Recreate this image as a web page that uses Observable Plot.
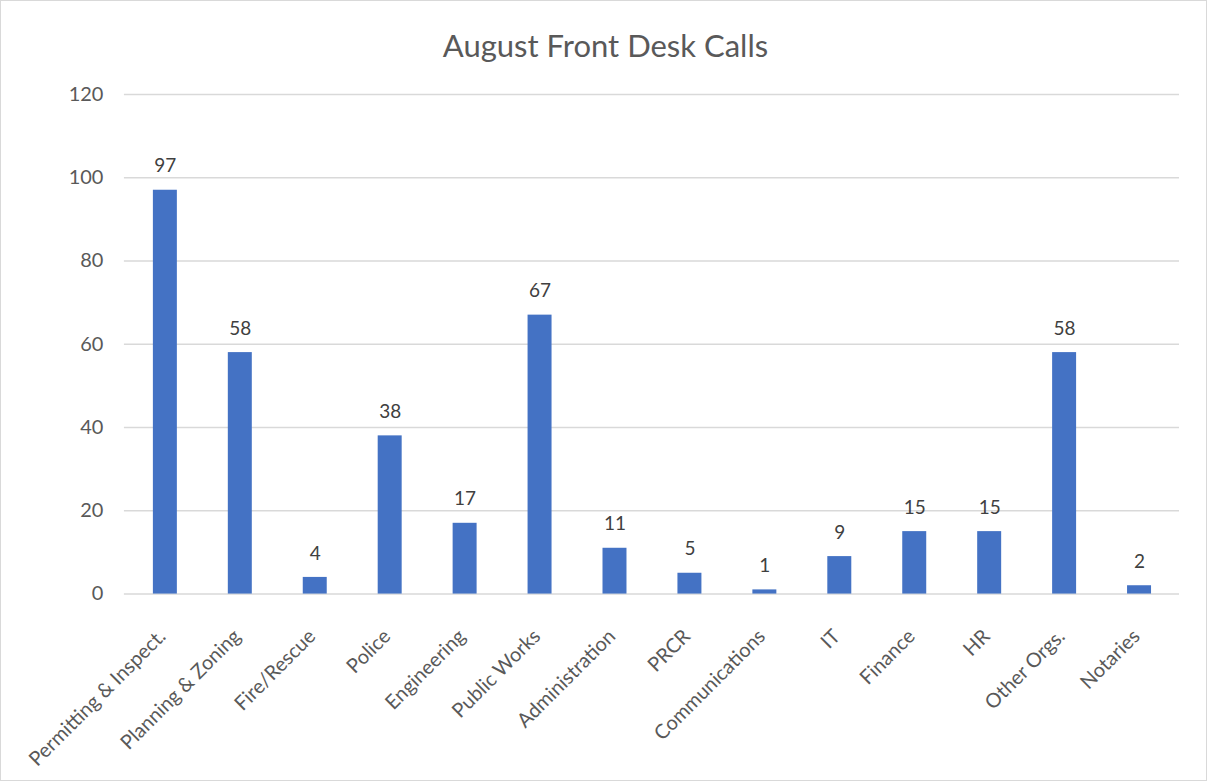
<!DOCTYPE html>
<html>
<head>
<meta charset="utf-8">
<script src="https://cdn.jsdelivr.net/npm/d3@7"></script>
<script src="https://cdn.jsdelivr.net/npm/@observablehq/plot@0.6"></script>
<style>
  html, body { margin: 0; padding: 0; background: #fff; }
  #chart {
    position: relative; width: 1207px; height: 781px; box-sizing: border-box;
    border: 1px solid #d9d9d9; background: #fff; overflow: hidden;
    font-family: Lato, "Open Sans", sans-serif;
  }
  #title {
    position: absolute; left: 2px; top: 25px; width: 100%; text-align: center;
    font-size: 31px; line-height: 38px; color: #595959; font-family: Lato, "Open Sans", sans-serif;
  }
  #plot { position: absolute; left: -1px; top: 79px; }
</style>
</head>
<body>
<div id="chart">
  <div id="title">August Front Desk Calls</div>
  <div id="plot"></div>
</div>
<script>
const categories = ["Permitting & Inspect.", "Planning & Zoning", "Fire/Rescue", "Police", "Engineering", "Public Works", "Administration", "PRCR", "Communications", "IT", "Finance", "HR", "Other Orgs.", "Notaries"];
const calls = [97, 58, 4, 38, 17, 67, 11, 5, 1, 9, 15, 15, 58, 2];
const yTicks = [0, 20, 40, 60, 80, 100, 120];

const data = categories.map((c, i) => ({category: c, calls: calls[i]}));

const chart = Plot.plot({
  width: 1207,
  height: 702,
  marginTop: 14,
  marginLeft: 124,
  marginRight: 27,
  marginBottom: 188,
  style: {fontFamily: "Lato, 'Open Sans', sans-serif", fontSize: "20px", color: "#595959", background: "transparent"},
  x: {domain: categories, paddingInner: 0.68, paddingOuter: 0.34, label: null},
  y: {domain: [0, 120], ticks: yTicks, label: null},
  marks: [
    Plot.gridY(yTicks, {stroke: "#d9d9d9", strokeOpacity: 1, strokeWidth: 1.5}),
    Plot.barY(data, {x: "category", y: "calls", fill: "#4472c4"}),
    Plot.text(data, {x: "category", y: "calls", text: d => String(d.calls), dy: -24, fill: "#404040", fontSize: 19}),
    Plot.axisX({tickSize: 0, tickPadding: 39, dx: -3, tickRotate: -45, fontSize: 20, fill: "#595959"}),
    Plot.axisY({ticks: yTicks, tickSize: 0, tickPadding: 21, fontSize: 20, fill: "#595959"})
  ]
});
document.getElementById("plot").appendChild(chart);
</script>
</body>
</html>
